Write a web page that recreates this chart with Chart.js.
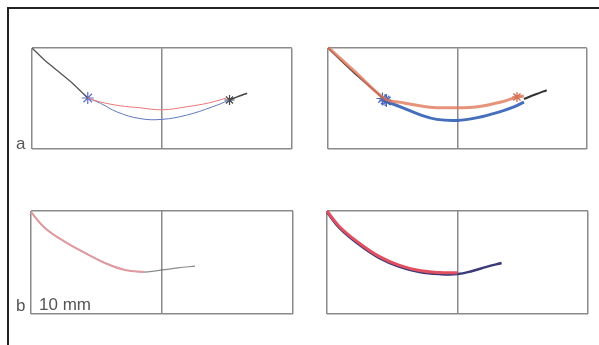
<!DOCTYPE html>
<html>
<head>
<meta charset="utf-8">
<script src="https://cdn.jsdelivr.net/npm/chart.js@4"></script>
<style>
    body { margin: 0; background: #fff; width: 599px; height: 345px; overflow: hidden; position: relative; font-family: "Liberation Sans", Arial, sans-serif; }
    #frame { position: absolute; left: 7px; top: 7px; right: 0; bottom: 0; border-top: 2px solid #222; border-left: 2px solid #222; }
    canvas { position: absolute; }
    .lbl { position: absolute; color: #555; line-height: 1; }
</style>
</head>
<body>
<div id="frame"></div>
<canvas id="tl" width="274" height="115" style="left:25px;top:41px"></canvas>
<canvas id="tr" width="273" height="115" style="left:321px;top:41px"></canvas>
<canvas id="bl" width="274" height="115" style="left:25px;top:205px"></canvas>
<canvas id="br" width="273" height="115" style="left:321px;top:205px"></canvas>
<div class="lbl" style="left:16px;top:135px;font-size:17px">a</div>
<div class="lbl" style="left:16px;top:297px;font-size:17px">b</div>
<div class="lbl" style="left:39px;top:296px;font-size:17px">10 mm</div>
<script>
// posiciones en mm (x horizontal, y profundidad)
const tlBlackStart = [[-50, 0], [-45.4, -4.6], [-40, -9.2], [-34.4, -14], [-28.6, -19.8]];
const tlRed = [[-28.6, -19.8], [-23.7, -21.4], [-16, -22.9], [-8.4, -23.7], [0, -24.5], [9.5, -23.3], [18.3, -21.7], [24.8, -19.8]];
const tlBlue = [[-28.6, -19.8], [-23.7, -21.9], [-17.2, -25.4], [-8.4, -28], [0, -28.3], [9.5, -26.6], [19.5, -23.3], [26, -20.6]];
const tlBlackEnd = [[26, -20.6], [29.8, -19], [32.8, -17.9]];
const tlStars = [[-28.6, -19.8]];
const tlEndStars = [[26, -20.6]];

const trBlackStart = [[-50, 0], [-45.2, -4.8], [-40.2, -9.6], [-32.6, -16.4], [-28, -20.6]];
const trRed = [[-50, 0.3], [-40, -9], [-28, -20.2], [-21.1, -21.7], [-10.7, -23.5], [0, -23.7], [7.7, -23.3], [16.9, -21.4], [23, -19.4], [25.7, -19]];
const trBlue = [[-28, -21], [-21.1, -23.7], [-14.6, -26.4], [-8, -28.3], [0, -28.7], [7.7, -27.6], [15.3, -25.6], [21.8, -23.3], [25.7, -21.4]];
const trBlackEnd = [[25.7, -20.2], [30.3, -18.3], [34.5, -16.7]];
const trStars = [[-29, -20], [-27.5, -21], [-28, -20.6]];
const trEndStars = [[23, -19.4]];

const blRed = [[-50, -0.4], [-44.7, -6.6], [-37, -12], [-29.4, -16.3], [-21.8, -20.2], [-14.1, -22.9], [-6.5, -23.7]];
const blGray = [[-50, -0.4], [-44.7, -6.6], [-37, -12], [-29.4, -16.3], [-21.8, -20.2], [-14.1, -22.9], [-6.5, -23.7], [0, -22.9], [6.1, -22.1], [12.6, -21.4]];

const brRed = [[-50, 0], [-45.2, -6.1], [-37.5, -12.6], [-29.9, -17.7], [-22.2, -21.1], [-14.6, -23.1], [-6.9, -23.9], [0, -24]];
const brBlue = [[-50, -0.5], [-45.2, -6.6], [-37.5, -13.2], [-29.9, -18.3], [-22.2, -21.7], [-14.6, -23.7], [-6.9, -24.5], [0, -24.5], [5.7, -23.3], [11.1, -21.7], [16.9, -20.2]];

function pts(arr) {
    return arr.map(p => ({ x: p[0], y: p[1] }));
}

function linea(arr, color, width, tension) {
    return { data: pts(arr), showLine: true, borderColor: color, borderWidth: width, pointRadius: 0, tension: tension === undefined ? 0.4 : tension, clip: false };
}

function estrellas(arr, color, radius) {
    return { data: pts(arr), showLine: false, pointStyle: 'star', pointRadius: radius, borderColor: color, borderWidth: 1.2, backgroundColor: color, clip: false };
}

function panel(id, datasets) {
    const ctx = document.getElementById(id).getContext('2d');
    return new Chart(ctx, {
        type: 'scatter',
        data: { datasets: datasets },
        options: {
            responsive: false,
            animation: false,
            layout: { padding: 6 },
            plugins: { legend: { display: false }, tooltip: { enabled: false } },
            scales: {
                x: {
                    min: -50, max: 50,
                    ticks: { stepSize: 50, display: false },
                    grid: { color: '#8a8a8a', lineWidth: 1.5, drawTicks: false },
                    border: { display: false }
                },
                y: {
                    min: -40, max: 0,
                    ticks: { stepSize: 40, display: false },
                    grid: { color: '#8a8a8a', lineWidth: 1.5, drawTicks: false },
                    border: { display: false }
                }
            }
        }
    });
}

panel('tl', [
    linea(tlRed, '#e87878', 1),
    linea(tlBlue, '#6078c0', 1),
    linea(tlBlackStart, '#555', 1.3, 0.2),
    linea(tlBlackEnd, '#444', 1.5),
    estrellas(tlStars, '#6070c8', 6),
    estrellas(tlEndStars, '#444', 5)
]);

panel('tr', [
    linea(trRed, 'rgba(225,120,90,0.8)', 3, 0.3),
    linea(trBlue, 'rgba(50,95,180,0.9)', 3),
    linea(trBlackStart, '#333', 1.5, 0.2),
    linea(trBlackEnd, '#333', 2),
    estrellas(trStars, '#4a68c0', 6),
    estrellas(trEndStars, '#c86040', 5)
]);

panel('bl', [
    linea(blRed, '#e09aa0', 2),
    linea(blGray, 'rgba(90,90,90,0.7)', 1.2)
]);

panel('br', [
    linea(brRed, '#e05060', 3),
    linea(brBlue, '#3a3a78', 2.5)
]);
</script>
</body>
</html>
